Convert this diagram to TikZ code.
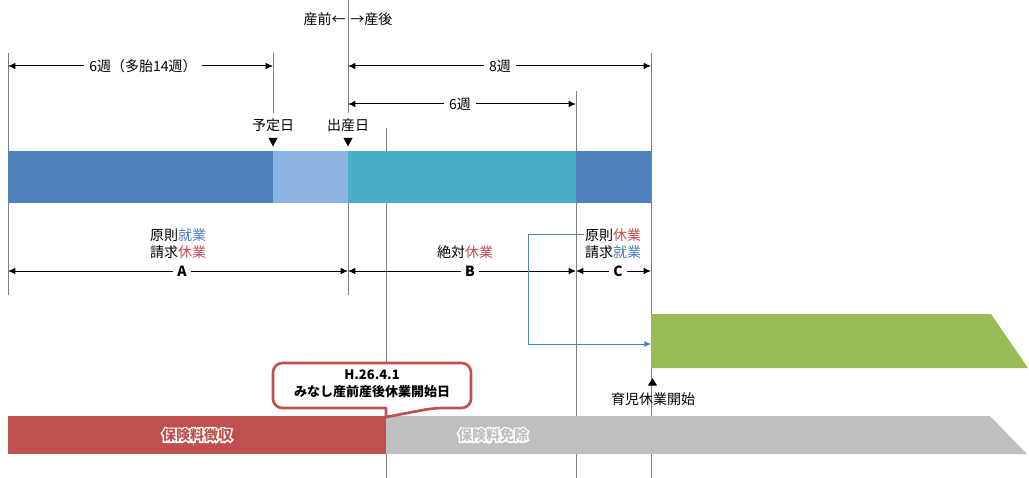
\documentclass[tikz,border=0pt]{standalone}
\usepackage{fontspec}
\setmainfont{Noto Sans CJK JP}
\newfontfamily\glowoutfont{Noto Sans CJK JP}[BoldFeatures={FakeBold=20}]
\usetikzlibrary{arrows.meta,calc}
\definecolor{cblue}{HTML}{4F81BD}
\definecolor{clblue}{HTML}{8DB3E2}
\definecolor{cteal}{HTML}{4BACC6}
\definecolor{cgreen}{HTML}{9BBB59}
\definecolor{cred}{HTML}{C0504D}
\definecolor{cgray}{HTML}{BFBFBF}
\definecolor{lgray}{HTML}{808080}
\definecolor{tblue}{HTML}{4F81BD}
\definecolor{tred}{HTML}{C0504D}
\newcommand\lblfont{\fontsize{10.5}{12.75}\selectfont}
\newcommand\glowfont{\fontsize{10.5}{12.75}\selectfont\bfseries}
\newcommand\callfont{\fontsize{9.75}{12}\selectfont\bfseries}
\newcommand\glowlabel[5]{%
  \node[inner sep=0pt,text=white,font=\glowoutfont\glowfont] (#1o) at (#2,#3) {#5};
  \node[glowbase,text=#4] (#1) at (#2,#3) {#5};}
\begin{document}
\begin{tikzpicture}[x=0.75pt,y=-0.75pt,
  vline/.style={draw=lgray,line width=0.75pt},
  dimline/.style={draw=black,line width=0.75pt,{Latex[length=5.5pt,width=5pt]}-{Latex[length=5.5pt,width=5pt]}},
  dimlab/.style={fill=white,inner xsep=4pt,inner ysep=1pt,font=\lblfont},
  letlab/.style={fill=white,inner xsep=3pt,inner ysep=1pt,font=\lblfont\bfseries},
  lbl/.style={font=\lblfont,inner sep=0pt,align=center},
  conn/.style={draw=cblue,line width=0.75pt,-{Latex[length=5pt,width=4.5pt]}},
  glowbase/.style={font=\glowfont,inner sep=0pt}]
\useasboundingbox (0,0) rectangle (1029,478);
\fill[white] (0,0) rectangle (1029,478);

% coordinates of vertical guide lines
\coordinate (L8t) at (8,53);     \coordinate (L8b) at (8,295);
\coordinate (L273t) at (273,53); \coordinate (L273b) at (273,113);
\coordinate (L348t) at (348,0);  \coordinate (L348m) at (348,113);
\coordinate (L348u) at (348,203);\coordinate (L348b) at (348,295);
\coordinate (L386t) at (386,128);\coordinate (L386b) at (386,478);
\coordinate (L576t) at (576,91); \coordinate (L576b) at (576,478);
\coordinate (L651t) at (651,53); \coordinate (L651b) at (651,478);

\draw[vline] (L8t) -- (L8b);
\draw[vline] (L273t) -- (L273b);
\draw[vline] (L348t) -- (L348m);
\draw[vline] (L348u) -- (L348b);
\draw[vline] (L386t) -- (L386b);
\draw[vline] (L576t) -- (L576b);
\draw[vline] (L651t) -- (L651b);

% main bar
\fill[cblue]  (8,151) rectangle (273,203);
\fill[clblue] (273,151) rectangle (348,203);
\fill[cteal]  (348,151) rectangle (576,203);
\fill[cblue]  (576,151) rectangle (651,203);

% green bar
\fill[cgreen] (651,314) -- (991,314) -- (1028,368) -- (651,368) -- cycle;
% bottom bars
\fill[cred] (8,416) rectangle (386,454);
\fill[cgray] (386,416) -- (990,416) -- (1027,454) -- (386,454) -- cycle;

% top labels
\node[lbl,anchor=east] (pre) at (346,19) {産前←};
\node[lbl,anchor=west] (post) at (350,19) {→産後};

% dimension lines (top)
\coordinate (d1a) at (8,66);   \coordinate (d1b) at (273,66);
\coordinate (d2a) at (348,66); \coordinate (d2b) at (651,66);
\coordinate (d3a) at (348,104);\coordinate (d3b) at (576,104);
\draw[dimline] (d1a) -- (d1b);
\draw[dimline] (d2a) -- (d2b);
\draw[dimline] (d3a) -- (d3b);
\node[dimlab] (w6a) at (143,66) {6週（多胎14週）};
\node[dimlab] (w8) at (500,66) {8週};
\node[dimlab] (w6b) at (460,104) {6週};

% markers
\node[lbl] (yotei) at (273,125) {予定日};
\node[lbl] (shussan) at (348,125) {出産日};
\fill[black] (268.5,138) -- (277.5,138) -- (273,146.5) -- cycle;
\fill[black] (343.5,138) -- (352.5,138) -- (348,146.5) -- cycle;

% A B C labels
\node[lbl] (labA) at (178,244) {原則\textcolor{tblue}{就業}\\請求\textcolor{tred}{休業}};
\node[lbl] (labB) at (465,252) {絶対\textcolor{tred}{休業}};
\node[lbl] (labC) at (613,244) {原則\textcolor{tred}{休業}\\請求\textcolor{tblue}{就業}};

\coordinate (eA) at (8,271);  \coordinate (eB) at (348,271);
\coordinate (eC) at (576,271);\coordinate (eD) at (651,271);
\draw[dimline] (eA) -- (eB);
\draw[dimline] (eB) -- (eC);
\draw[dimline] (eC) -- (eD);
\node[letlab] (A) at (182,271) {A};
\node[letlab] (B) at (470,271) {B};
\node[letlab] (C) at (618,271) {C};

% blue connector
\coordinate (cs) at (584,234);
\coordinate (ck) at (528,0);
\coordinate (gw) at (651,344);
\draw[conn] (cs) -- (cs -| ck) -- (ck |- gw) -- (gw);

% childcare start
\fill[black] (652.5,378) -- (657,385.5) -- (648,385.5) -- cycle;
\node[lbl] (ikuji) at (653,399) {育児休業開始};

% callout
\draw[cred,line width=2pt,fill=white,line join=round]
  (273,385) [rounded corners=7pt] -- (273,363) -- (471,363) -- (471,408)
  -- (434,408) [sharp corners] -- (386,417) -- (386,408) [rounded corners=7pt]
  -- (273,408) -- (273,385);
\node[font=\callfont,align=center,inner sep=0pt] (callout) at (372,384) {H.26.4.1\\[1pt]みなし産前産後休業開始日};

% glow labels
\glowlabel{gA}{197}{435}{cred}{保険料徴収}
\glowlabel{gB}{493}{435}{cgray}{保険料免除}
\end{tikzpicture}
\end{document}
